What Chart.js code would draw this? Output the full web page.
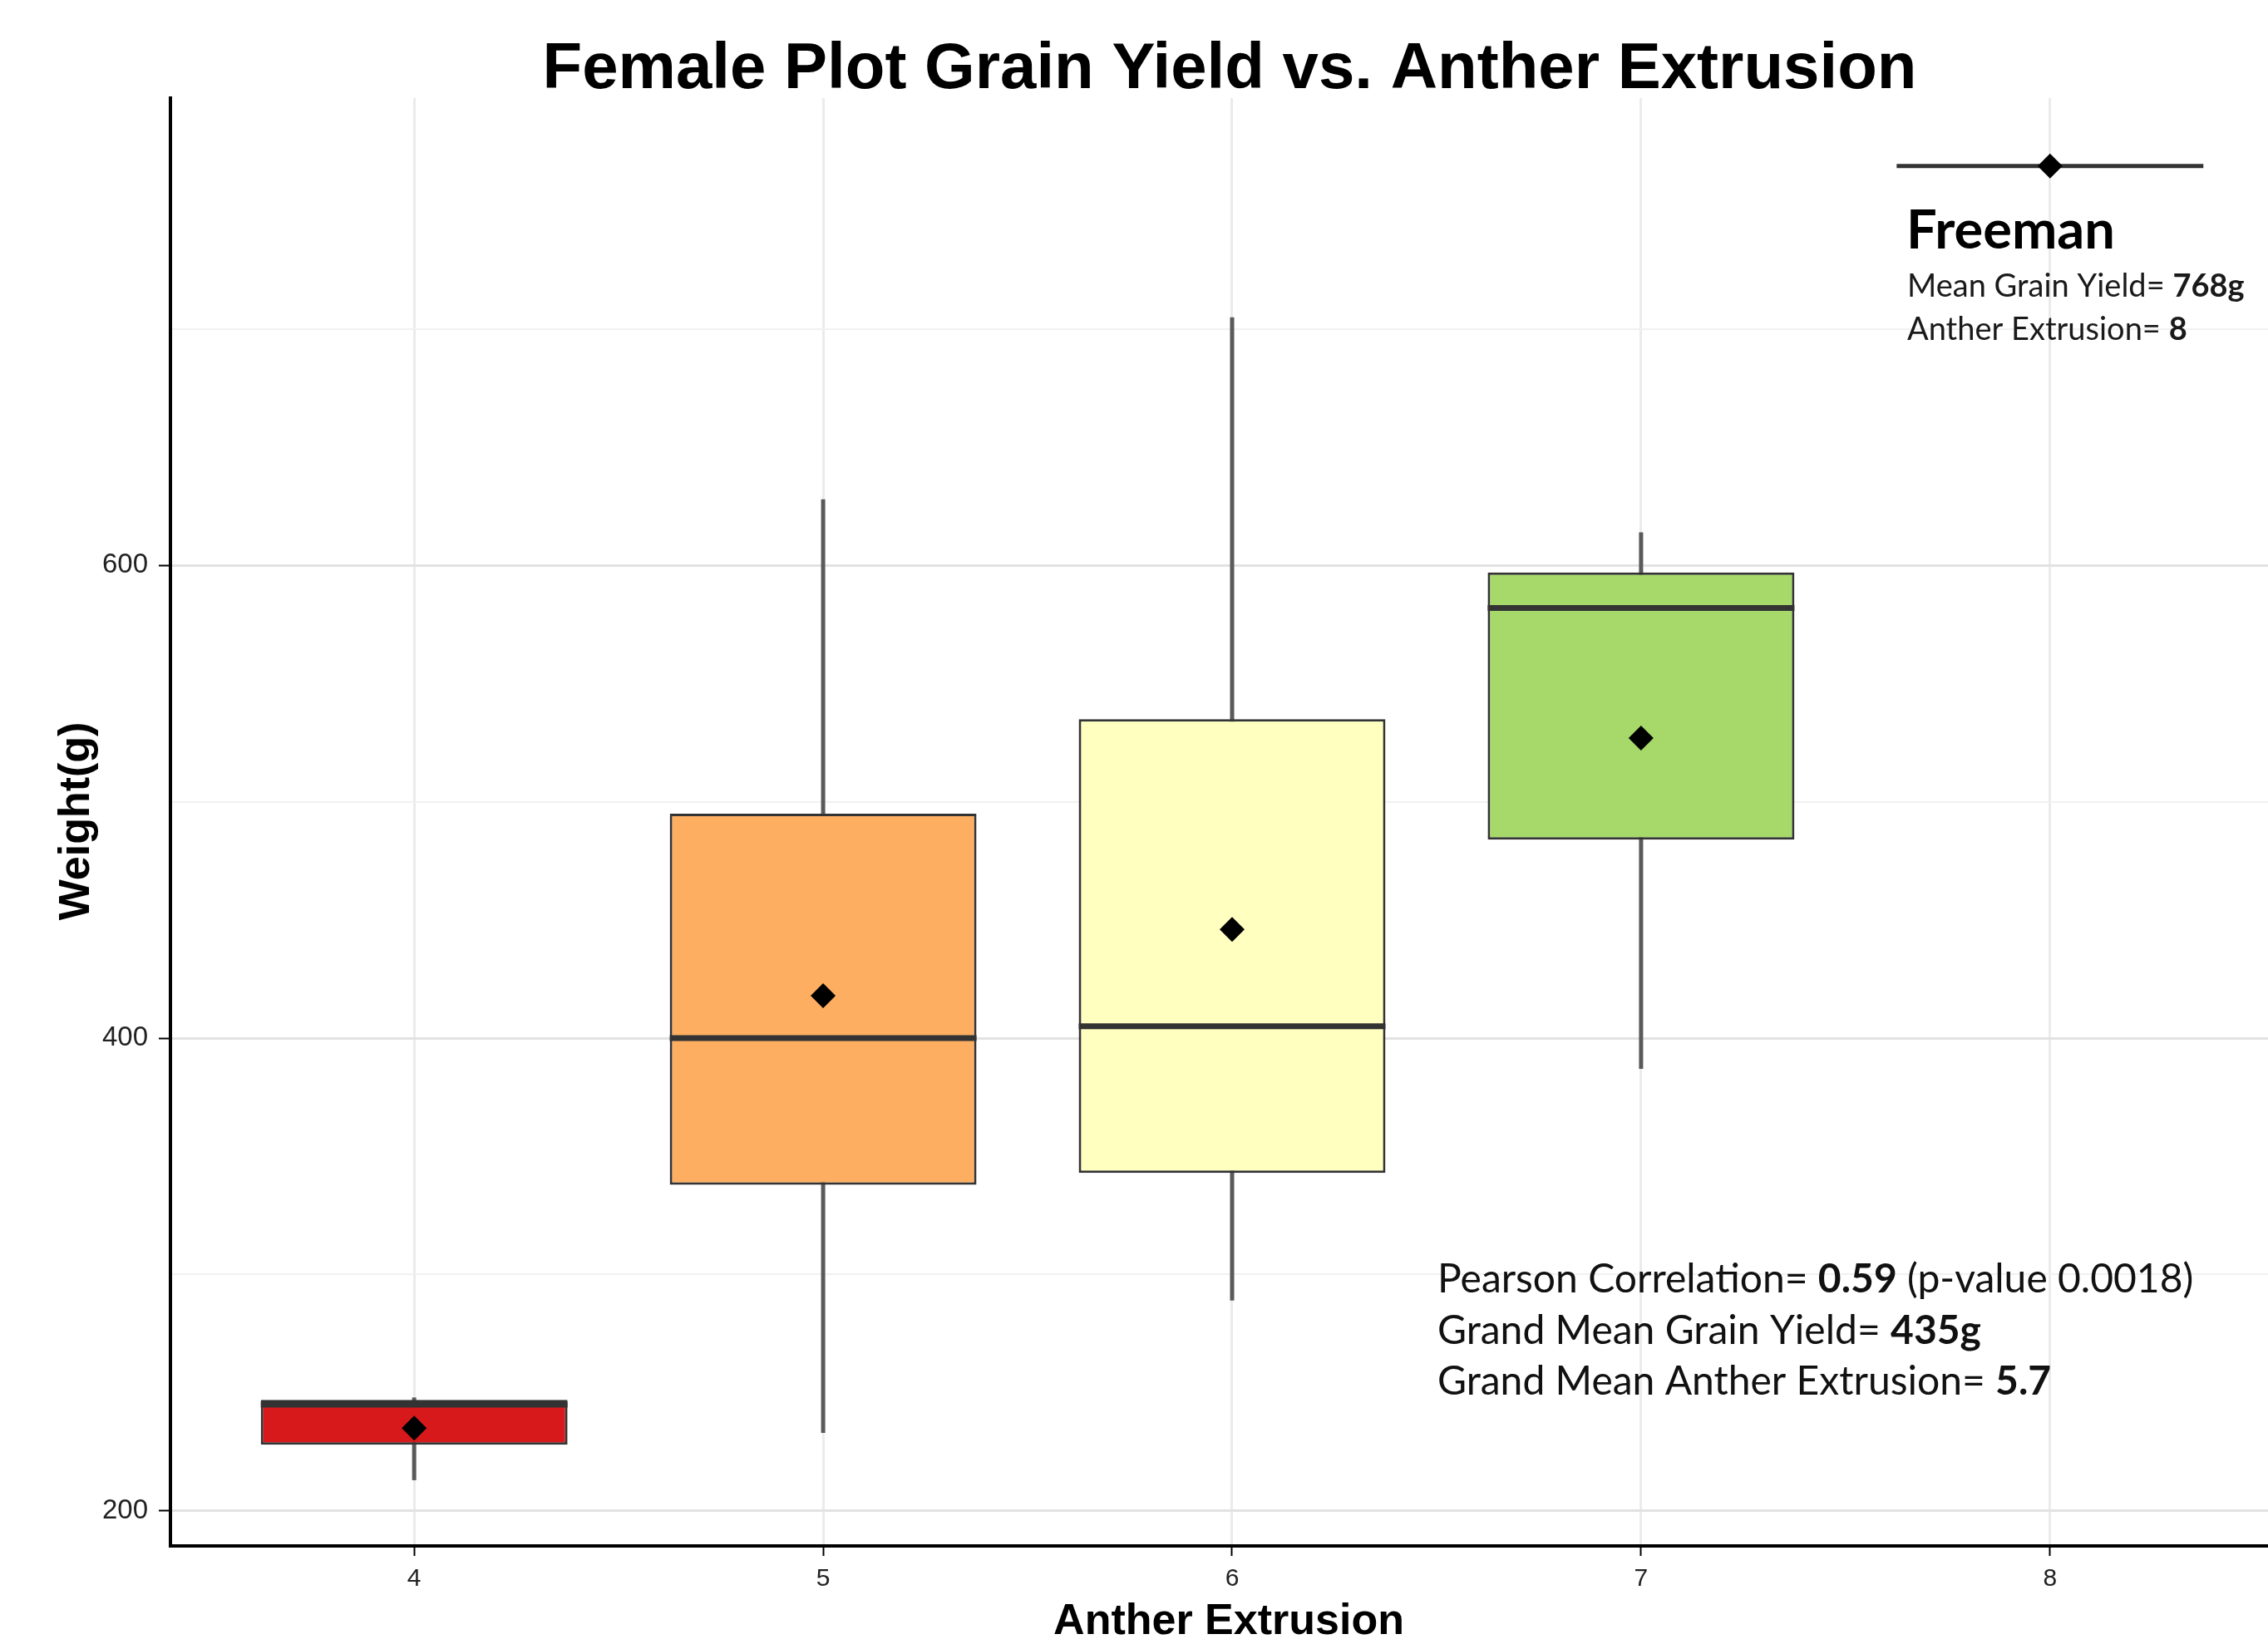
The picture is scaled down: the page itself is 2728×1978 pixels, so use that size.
<!DOCTYPE html>
<html>
<head>
<meta charset="utf-8">
<title>Female Plot Grain Yield vs. Anther Extrusion</title>
<script src="https://cdn.jsdelivr.net/npm/chart.js@4.4.1/dist/chart.umd.min.js"></script>
<style>
  html, body { margin: 0; padding: 0; background: #fff; overflow: hidden; }
  #wrap { width: 2728px; height: 1978px; }
  canvas { display: block; }
</style>
</head>
<body>
<div id="wrap"><canvas id="chart" width="2728" height="1978"></canvas></div>
<script>
// box plot summaries per anther extrusion score
const antherLevels = [4, 5, 6, 7];
const whiskerLow = [213, 233, 289, 387];
const q1 = [228, 338, 343, 484];
const medians = [245, 400, 405, 582];
const q3 = [247, 495, 535, 597];
const whiskerHigh = [248, 628, 705, 614];
const means = [235, 418, 446, 527];
const boxColors = ['#d7191c', '#fdae61', '#ffffbf', '#a6d96a'];

// Freeman check variety
const freemanX = 8;
const freemanMean = 769;

// axis ticks
const xTicks = [4, 5, 6, 7, 8];
const yGrid = [200, 300, 400, 500, 600, 700];
const yLabels = [200, 400, 600];

// stats printed on the chart
const pearsonR = '0.59';
const pValue = '0.0018';
const grandMeanYield = '435g';
const grandMeanAE = '5.7';
const freemanYieldLabel = '768g';
const freemanAELabel = '8';

const boxPct = 0.75;
const boxHalf = boxPct / 2;

const medianSets = medians.map((m, i) => ({
  type: 'line',
  data: [{ x: antherLevels[i] - boxHalf, y: m }, { x: antherLevels[i] + boxHalf, y: m }],
  borderColor: '#333333',
  borderWidth: 7,
  borderCapStyle: 'butt',
  pointRadius: 0,
  order: 1
}));

const sans = '"Liberation Sans", Arial, sans-serif';
const lato = 'Lato, "Open Sans", sans-serif';

function drawRich(ctx, parts, x, y, size) {
  let cx = x;
  parts.forEach(([txt, bold]) => {
    ctx.font = (bold ? 'bold ' : '') + size + 'px ' + lato;
    ctx.fillText(txt, cx, y);
    cx += ctx.measureText(txt).width;
  });
}

const textPlugin = {
  id: 'chartTexts',
  afterDraw(chart) {
    const ctx = chart.ctx;
    ctx.save();
    ctx.fillStyle = '#000';
    ctx.textBaseline = 'alphabetic';

    ctx.textAlign = 'center';
    ctx.font = 'bold 78px ' + sans;
    ctx.fillText('Female Plot Grain Yield vs. Anther Extrusion', 1479, 106);

    ctx.font = 'bold 52px ' + sans;
    ctx.fillText('Anther Extrusion', 1478, 1966);

    ctx.save();
    ctx.translate(107, 988);
    ctx.rotate(-Math.PI / 2);
    ctx.fillText('Weight(g)', 0, 0);
    ctx.restore();

    ctx.textAlign = 'left';
    ctx.fillStyle = '#111';
    drawRich(ctx, [['Pearson Correlation= ', false], [pearsonR, true], [' (p-value ' + pValue + ')', false]], 1729, 1555, 48);
    drawRich(ctx, [['Grand Mean Grain Yield= ', false], [grandMeanYield, true]], 1729, 1617, 48);
    drawRich(ctx, [['Grand Mean Anther Extrusion= ', false], [grandMeanAE, true]], 1729, 1678, 48);

    ctx.fillStyle = '#000';
    drawRich(ctx, [['Freeman', true]], 2293, 299, 65);
    ctx.fillStyle = '#1a1a1a';
    drawRich(ctx, [['Mean Grain Yield= ', false], [freemanYieldLabel, true]], 2294, 357, 38);
    drawRich(ctx, [['Anther Extrusion= ', false], [freemanAELabel, true]], 2294, 409, 38);
    ctx.restore();
  }
};

new Chart(document.getElementById('chart'), {
  type: 'bar',
  data: {
    datasets: [
      {
        type: 'scatter',
        data: antherLevels.map((x, i) => ({ x, y: means[i] })).concat([{ x: freemanX, y: freemanMean }]),
        pointStyle: 'rectRot',
        pointRadius: 15,
        pointBackgroundColor: '#000',
        pointBorderWidth: 0,
        order: 0
      },
      ...medianSets,
      {
        type: 'line',
        data: [{ x: freemanX - boxHalf, y: freemanMean }, { x: freemanX + boxHalf, y: freemanMean }],
        borderColor: '#333333',
        borderWidth: 5,
        borderCapStyle: 'butt',
        pointRadius: 0,
        order: 1
      },
      {
        data: antherLevels.map((x, i) => ({ x, y: [q1[i], q3[i]] })),
        backgroundColor: boxColors,
        borderColor: '#333333',
        borderWidth: 3,
        borderSkipped: false,
        grouped: false,
        categoryPercentage: 1,
        barPercentage: boxPct,
        order: 2
      },
      {
        data: antherLevels.map((x, i) => ({ x, y: [whiskerLow[i], whiskerHigh[i]] })),
        backgroundColor: '#5a5a5a',
        borderWidth: 0,
        grouped: false,
        categoryPercentage: 1,
        barPercentage: 0.5,
        maxBarThickness: 5,
        order: 3
      }
    ]
  },
  options: {
    responsive: false,
    animation: false,
    devicePixelRatio: 1,
    events: [],
    layout: { autoPadding: false, padding: { top: 118, left: 0, right: 0, bottom: 0 } },
    plugins: { legend: { display: false }, tooltip: { enabled: false }, title: { display: false } },
    scales: {
      x: {
        type: 'linear',
        min: 3.404,
        max: 8.533,
        offset: false,
        afterFit: s => { s.height = 118; s.paddingLeft = 0; s.paddingRight = 0; },
        afterBuildTicks: s => { s.ticks = xTicks.map(v => ({ value: v })); },
        grid: { offset: false, color: '#ebebeb', lineWidth: 3, tickColor: '#000', tickWidth: 2, tickLength: 12 },
        border: { display: true, color: '#000', width: 4 },
        ticks: { autoSkip: false, maxRotation: 0, padding: 10, color: '#222', font: { family: sans, size: 30 } }
      },
      y: {
        type: 'linear',
        min: 185.2,
        max: 797.7,
        afterFit: s => { s.width = 205; s.paddingTop = 0; s.paddingBottom = 0; },
        afterBuildTicks: s => { s.ticks = yGrid.map(v => ({ value: v })); },
        grid: {
          color: c => yLabels.includes(c.tick && c.tick.value) ? '#e2e2e2' : '#f1f1f1',
          lineWidth: c => yLabels.includes(c.tick && c.tick.value) ? 3 : 2,
          tickColor: c => yLabels.includes(c.tick && c.tick.value) ? '#000' : 'rgba(0,0,0,0)',
          tickWidth: 2,
          tickLength: 14
        },
        border: { display: true, color: '#000', width: 4 },
        ticks: {
          autoSkip: false,
          padding: 13,
          color: '#222',
          font: { family: sans, size: 33 },
          callback: v => yLabels.includes(v) ? String(v) : ''
        }
      }
    }
  },
  plugins: [textPlugin]
});
</script>
</body>
</html>
